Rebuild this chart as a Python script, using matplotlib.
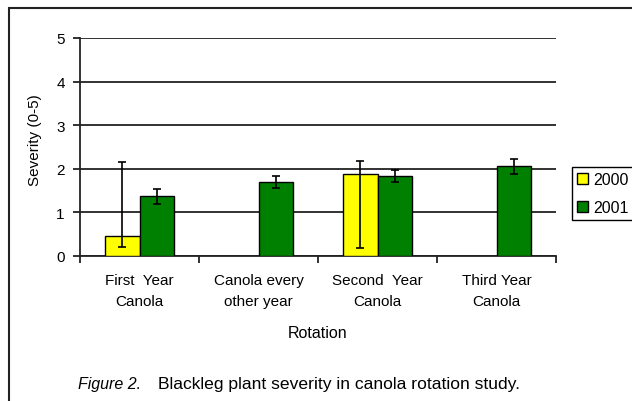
import matplotlib
matplotlib.use("Agg")
import matplotlib.pyplot as plt
import matplotlib.patches as mpatches
import numpy as np

categories = ["First  Year\nCanola", "Canola every\nother year", "Second  Year\nCanola", "Third Year\nCanola"]
series_names = ["2000", "2001"]
values_2000 = [0.45, np.nan, 1.88, np.nan]
err_2000_low = [0.25, 0, 1.69, 0]
err_2000_high = [1.70, 0, 0.29, 0]
values_2001 = [1.37, 1.70, 1.83, 2.06]
err_2001 = [0.17, 0.13, 0.14, 0.17]
yticks = [0, 1, 2, 3, 4, 5]

plt.rcParams['font.family'] = ['Liberation Sans', 'DejaVu Sans']
FS = 11

fig = plt.figure(figsize=(6.32, 4.02), dpi=100)
ax = fig.add_axes([80/632, 1-257/402, 476/632, 218/402])

x = np.arange(len(categories))
w = 0.29
ek = dict(ecolor='black', elinewidth=1.2, capsize=3, capthick=1.2)
m2000 = ~np.isnan(values_2000)
ax.bar(x[m2000] - w/2, np.array(values_2000)[m2000], w, color='#FFFF00', edgecolor='black',
       linewidth=1.0, label=series_names[0], zorder=3,
       yerr=[np.array(err_2000_low)[m2000], np.array(err_2000_high)[m2000]], error_kw=ek)
ax.bar(x + w/2, values_2001, w, color='#008000', edgecolor='black', linewidth=1.0,
       label=series_names[1], zorder=3, yerr=err_2001, error_kw=ek)

ax.set_xlim(-0.5, len(categories) - 0.5)
ax.set_ylim(0, 5)
ax.set_yticks(yticks)
ax.yaxis.grid(True, color='#222222', linewidth=1.3, zorder=0)
ax.set_axisbelow(True)
for s in ['top', 'right']:
    ax.spines[s].set_visible(False)
for s in ['left', 'bottom']:
    ax.spines[s].set_color('#222222')
    ax.spines[s].set_linewidth(1.3)

ax.set_xticks(x)
ax.set_xticklabels(categories, fontsize=FS, linespacing=1.7)
ax.tick_params(axis='x', which='major', length=0, pad=12)
ax.set_xticks(np.arange(len(categories) + 1) - 0.5, minor=True)
ax.tick_params(axis='x', which='minor', length=5, width=1.3, color='#222222')
ax.tick_params(axis='y', length=5, width=1.3, color='#222222', labelsize=FS, pad=6)

ax.set_xlabel("Rotation", fontsize=FS + 0.5)
ax.xaxis.label.set_va('center')
ax.xaxis.set_label_coords(0.5, (257-334)/218)
ax.set_ylabel("Severity (0-5)", fontsize=FS)
ax.yaxis.label.set_va('center')
ax.yaxis.set_label_coords((35-80)/476, (257-140)/218)

leg = fig.legend(loc='upper left', bbox_to_anchor=(572/632, 1-168/402), borderaxespad=0,
                 fancybox=False, edgecolor='black', fontsize=FS + 0.5, handlelength=0.7,
                 handleheight=0.7, handletextpad=0.3, borderpad=0.3, labelspacing=0.85,
                 framealpha=1)
leg.get_frame().set_linewidth(1.0)

fig.text(78/632, 1-385/402, "Figure 2.", style='italic', fontsize=11.5, va='center', ha='left')
fig.text(158/632, 1-385/402, "Blackleg plant severity in canola rotation study.",
         fontsize=12.6, va='center', ha='left')

rect = mpatches.Rectangle((9/632, -0.1), 1.2, 1 - 9/402 + 0.1, transform=fig.transFigure,
                          fill=False, edgecolor='#222222', linewidth=1.5, clip_on=False)
fig.add_artist(rect)

fig.savefig("out.png", dpi=100)
